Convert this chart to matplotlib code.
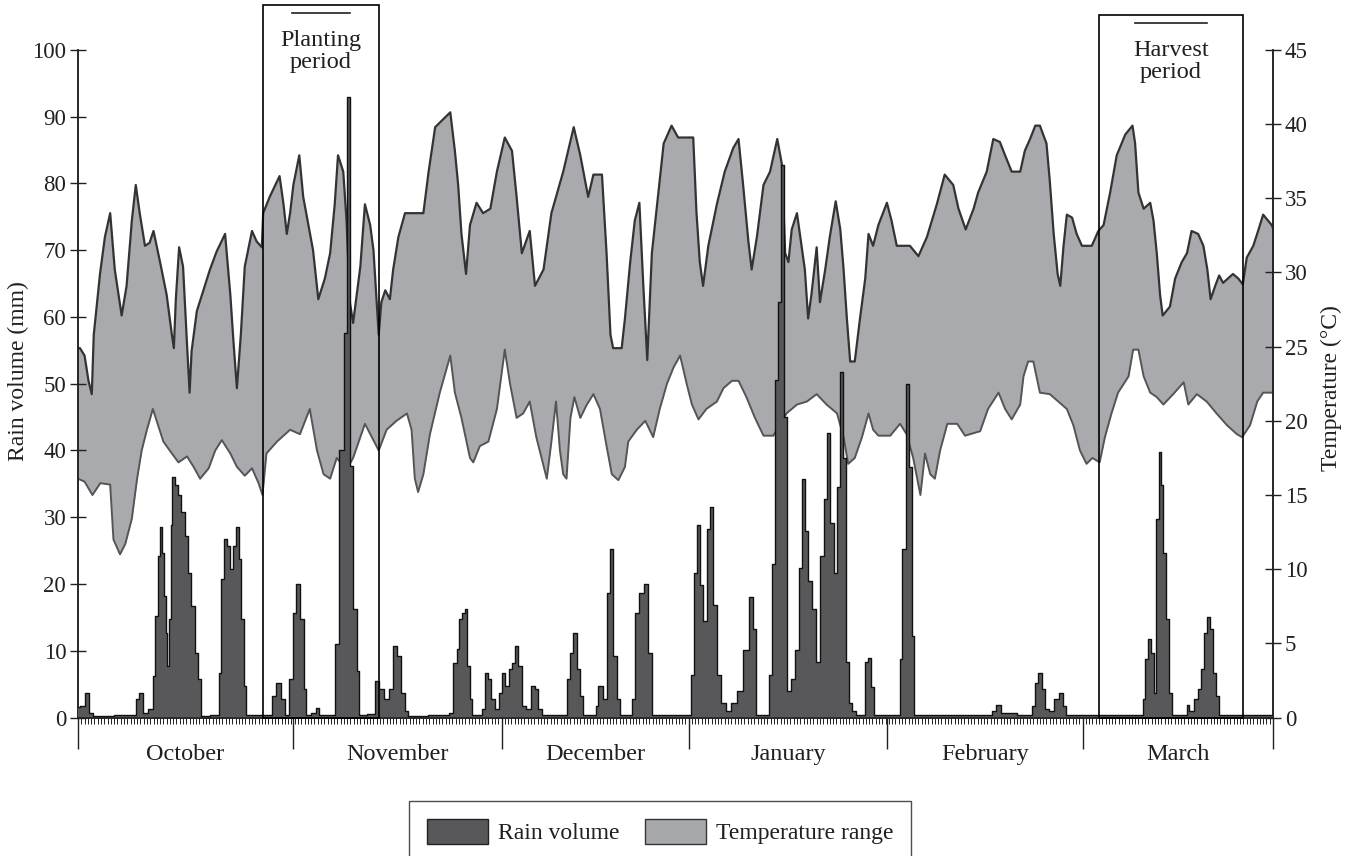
import matplotlib
matplotlib.use("Agg")
import matplotlib.pyplot as plt
from matplotlib.patches import Rectangle, Patch
from matplotlib.ticker import MultipleLocator, FixedLocator
import numpy as np

plt.rcParams['font.family'] = ['Liberation Serif', 'DejaVu Serif']

# ---------------- data ----------------
months = ["October", "November", "December", "January", "February", "March"]
month_edges = [0, 32.7, 64.6, 93.1, 123.2, 153.1, 182]

tmax_day = [0.0, 0.3, 1.0, 1.6, 2.1, 2.4, 3.35, 4.1, 4.9, 5.6, 6.65, 7.4, 8.2, 8.8, 9.4, 10.2, 10.9, 11.5, 12.5, 13.5,
            14.3, 14.6, 14.9, 15.4, 16.0, 16.6, 17.0, 17.3, 18.1, 19.1, 20.1, 21.1, 22.4, 23.2, 23.7, 24.2, 24.8, 25.4,
            26.5, 27.2, 28.0, 28.2, 29.2, 30.7, 31.3, 31.8, 32.3, 32.8, 33.7, 34.3, 35.1, 35.8, 36.6, 37.6, 38.4, 39.1,
            39.6, 40.4, 40.9, 41.4, 41.9, 43.0, 43.7, 44.5, 45.0, 45.8, 46.2, 46.8, 47.5, 48.0, 48.8, 49.8, 52.6, 53.4,
            54.4, 56.7, 57.4, 57.9, 58.4, 59.1, 59.7, 60.7, 61.7, 62.8, 63.8, 65.0, 66.1, 66.8, 67.6, 68.8, 69.6, 70.9,
            72.1, 73.9, 75.5, 76.5, 77.7, 78.5, 79.8, 80.5, 81.1, 81.5, 82.8, 83.3, 84.1, 84.8, 85.5, 86.1, 86.7, 87.4,
            88.4, 89.2, 90.4, 91.4, 93.7, 94.2, 94.7, 95.2, 96.0, 97.3, 98.5, 99.8, 100.6, 101.3, 102.1, 102.6, 103.4,
            104.4, 105.4, 106.5, 107.2, 107.7, 108.2, 108.7, 109.5, 110.2, 110.7, 111.2, 111.7, 112.5, 113.0, 113.8,
            114.5, 115.4, 116.1, 116.6, 117.1, 117.6, 118.3, 119.1, 119.9, 120.4, 121.1, 121.9, 123.2, 123.9, 124.7,
            126.7, 128.0, 129.3, 130.8, 132.0, 133.3, 134.1, 135.2, 136.4, 137.1, 138.4, 139.4, 140.4, 141.2, 142.2,
            143.5, 144.2, 145.0, 145.8, 146.5, 147.5, 148.0, 148.6, 149.2, 149.6, 150.1, 150.6, 151.4, 152.1, 152.9,
            154.4, 155.4, 156.2, 157.2, 158.2, 159.5, 160.6, 161.0, 161.5, 162.3, 163.3, 163.8, 164.3, 164.8, 165.2,
            166.3, 167.1, 168.1, 168.9, 169.6, 170.6, 171.4, 172.0, 172.5, 173.2, 173.8, 174.4, 175.9, 176.7, 177.4,
            178.0, 179.0, 179.8, 180.5, 181.8, 182.0]
tmax_val = [24.9, 24.9, 24.4, 22.7, 21.8, 25.8, 29.9, 32.4, 34.0, 30.2, 27.1, 29.1, 33.5, 35.9, 34.0, 31.8, 32.0, 32.8, 30.7, 28.5,
            25.8, 24.9, 28.2, 31.7, 30.4, 25.2, 21.9, 24.7, 27.4, 28.8, 30.2, 31.4, 32.6, 28.5, 25.2, 22.2, 25.8, 30.4,
            32.8, 32.1, 31.7, 34.0, 35.1, 36.5, 34.6, 32.6, 34.0, 35.9, 37.9, 35.1, 33.2, 31.5, 28.2, 29.6, 31.3, 34.6,
            37.9, 36.8, 33.5, 28.0, 26.6, 30.4, 34.6, 33.2, 31.5, 25.8, 28.0, 28.8, 28.2, 30.2, 32.4, 34.0, 34.0, 36.8,
            39.8, 40.8, 38.2, 35.9, 32.6, 29.9, 33.2, 34.7, 34.0, 34.3, 36.8, 39.1, 38.2, 35.1, 31.3, 32.8, 29.1, 30.2,
            34.0, 36.8, 39.8, 37.9, 35.1, 36.6, 36.6, 31.3, 25.8, 24.9, 24.9, 26.9, 30.7, 33.5, 34.7, 29.1, 24.1, 31.3,
            35.4, 38.7, 39.9, 39.1, 39.1, 34.0, 30.7, 29.1, 31.8, 34.6, 36.8, 38.4, 39.0, 35.9, 32.1, 30.2, 32.4,
            35.9, 36.8, 39.0, 37.3, 31.3, 30.7, 32.9, 34.0, 31.8, 30.2, 26.9, 28.5, 31.7, 28.0, 30.2,
            32.4, 34.8, 32.9, 30.2, 26.9, 24.0, 24.0, 26.9, 29.6, 32.6, 31.8, 33.2, 34.7, 33.5, 31.8,
            31.8, 31.1, 32.4, 34.6, 36.6, 35.9, 34.3, 32.9, 34.3, 35.4, 36.8, 39.0, 38.8, 37.9, 36.8,
            36.8, 38.2, 39.0, 39.9, 39.9, 38.7, 36.2, 32.6, 29.9, 29.1, 31.8, 33.9, 33.7, 32.6, 31.8,
            31.8, 32.8, 33.2, 35.4, 37.9, 39.3, 39.9, 38.7, 35.4, 34.3, 34.7, 33.5, 31.3, 28.5, 27.1,
            27.7, 29.6, 30.7, 31.3, 32.8, 32.6, 31.8, 30.2, 28.2, 29.1, 29.8, 29.3, 29.9, 29.6, 29.2,
            31.0, 31.8, 32.9, 33.9, 33.2, 33.0]

tmin_day = [0, 1.0, 2.2, 3.4, 4.9, 5.4, 6.4, 7.2, 8.2, 9.0, 9.7, 10.5, 11.4, 12.2, 13.0, 14.3, 15.3, 16.6, 17.6, 18.6,
            19.9, 20.9, 21.9, 23.2, 24.2, 25.4, 26.5, 27.5, 28.1, 28.7, 30.3, 32.3, 33.8, 35.3, 36.4, 37.4, 38.4, 39.4,
            40.9, 41.9, 43.7, 45.8, 47.0, 48.5, 50.1, 50.8, 51.3, 51.8, 52.6, 53.6, 55.1, 56.7, 57.4, 58.4, 59.7, 60.2,
            61.2, 62.5, 63.8, 65.0, 65.8, 66.8, 67.8, 68.8, 69.8, 71.4, 72.1, 72.8, 73.4, 73.9, 74.4, 75.0, 75.6, 76.5,
            77.5, 78.5, 79.5, 80.5, 81.3, 82.3, 83.3, 83.8, 85.1, 86.4, 87.6, 88.6, 89.7, 90.7, 91.7, 92.7, 93.5, 94.5,
            95.7, 97.3, 98.3, 99.6, 100.6, 101.8, 103.1, 104.4, 105.9, 107.9, 109.5, 111.0, 112.5, 114.0, 115.6, 116.6,
            117.3, 118.3, 119.4, 120.4, 121.1, 121.9, 123.7, 125.2, 126.2, 127.2, 128.3, 129.0, 129.8, 130.5, 131.3,
            132.4, 133.9, 135.1, 137.4, 138.6, 140.2, 141.2, 142.2, 143.5, 144.0, 144.7, 145.5, 146.5, 148.0, 149.3,
            150.6, 151.6, 152.6, 153.6, 154.5, 155.6, 156.4, 157.4, 158.4, 160.0, 160.7, 161.5, 162.3, 163.3, 164.3,
            165.3, 166.8, 168.4, 169.1, 170.4, 171.9, 173.4, 175.0, 176.5, 177.3, 178.5, 179.6, 180.5, 182.0]
tmin_val = [16.1, 15.9, 15.0, 15.8, 15.7, 12.0, 11.0, 11.7, 13.4, 16.1, 18.0, 19.4, 20.8, 19.7, 18.6, 17.8, 17.2, 17.6, 16.9, 16.1,
            16.8, 18.0, 18.7, 17.8, 16.9, 16.3, 16.8, 15.8, 15.0, 17.8, 18.6, 19.4, 19.1, 20.8, 18.0, 16.4, 16.1, 17.5,
            16.7, 17.5, 19.8, 18.0, 19.4, 20.0, 20.5, 19.4, 16.1, 15.2, 16.4, 19.1, 21.9, 24.4, 21.9, 20.2, 17.5, 17.2,
            18.3, 18.6, 20.8, 24.8, 22.5, 20.2, 20.5, 21.3, 18.9, 16.1, 18.6, 21.3, 18.0, 16.4, 16.1, 20.2, 21.6, 20.2,
            21.1, 21.8, 20.8, 18.3, 16.4, 16.0, 16.9, 18.6, 19.4, 20.0, 18.9, 20.8, 22.5, 23.6, 24.4, 22.5, 21.1, 20.1,
            20.8, 21.3, 22.2, 22.7, 22.7, 21.6, 20.2, 19.0, 19.0, 20.5, 21.1, 21.3, 21.8, 21.1, 20.5, 18.9,
            17.1, 17.5, 18.9, 20.5, 19.4, 19.0, 19.0, 19.8, 19.1, 17.5, 15.0, 17.8, 16.4, 16.1, 18.0,
            19.8, 19.8, 19.0, 19.3, 20.8, 21.9, 20.8, 20.1, 21.1, 23.0, 24.0, 24.0, 21.9, 21.8, 21.3,
            20.8, 19.7, 18.0, 17.1, 17.5, 17.2, 18.9, 20.5, 21.9, 23.0, 24.8, 24.8, 23.0, 21.9, 21.6,
            21.1, 21.8, 22.6, 21.1, 21.8, 21.3, 20.5, 19.7, 19.1, 18.9, 19.7, 21.3, 21.9, 21.9]

rain_day = [0, 0.7, 1.5, 2.0, 2.5, 8.6, 9.1, 9.6, 10.2, 11.2, 11.5, 11.9, 12.4, 12.7, 12.9, 13.2, 13.5, 13.7, 14.0, 14.2,
            14.5, 15.0, 15.5, 16.0, 16.5, 17.0, 17.5, 18.1, 18.6, 18.9, 21.3, 21.6, 22.1, 22.5, 22.9, 23.4, 23.9, 24.3,
            24.7, 25.1, 25.4, 25.8, 29.4, 29.7, 30.5, 31.3, 31.8, 32.5, 33.0, 33.5, 34.1, 34.6, 35.0, 36.0, 36.4, 36.9,
            39.0, 39.4, 40.2, 40.7, 41.2, 41.7, 42.2, 42.7, 43.0, 45.0, 45.5, 46.3, 47.0, 47.8, 48.3, 48.8, 49.5, 50.0,
            50.4, 56.2, 56.7, 57.4, 57.9, 58.3, 58.7, 59.1, 59.4, 59.9, 60.2, 61.4, 61.7, 62.2, 62.7, 63.2, 63.8, 64.3,
            64.8, 65.3, 65.9, 66.4, 66.8, 67.3, 67.8, 68.6, 69.3, 69.8, 70.4, 70.8, 74.4, 74.7, 75.2, 75.7, 76.2, 76.7,
            77.2, 78.7, 79.0, 79.5, 80.3, 80.8, 81.3, 81.8, 82.3, 82.8, 84.3, 84.6, 85.1, 85.9, 86.6, 87.1, 87.6, 93.2,
            93.5, 94.0, 94.5, 95.0, 95.5, 96.0, 96.5, 97.0, 97.5, 98.3, 99.1, 99.8, 100.8, 101.8, 102.6, 103.1, 103.4,
            105.1, 105.4, 105.9, 106.4, 106.9, 107.3, 107.8, 108.3, 108.9, 109.5, 110.0, 110.5, 111.0, 111.5, 112.1,
            112.8, 113.3, 113.8, 114.3, 114.8, 115.4, 115.9, 116.3, 116.7, 117.1, 117.6, 118.3, 118.8, 119.7, 120.0,
            120.5, 121.1, 121.5, 125.0, 125.3, 125.8, 126.3, 126.8, 127.1, 127.4, 139.0, 139.4, 140.2, 140.9, 145.2,
            145.5, 146.0, 146.5, 147.0, 147.5, 148.3, 149.0, 149.7, 150.2, 150.6, 162.0, 162.3, 162.8, 163.1, 163.6,
            164.0, 164.4, 164.8, 165.0, 165.5, 165.9, 166.4, 166.8, 168.7, 169.0, 169.5, 170.3, 170.8, 171.3, 171.8,
            172.1, 172.6, 173.0, 173.5, 173.9, 182.0]
rain_val = [1.5, 1.7, 3.7, 0.6, 0.2, 0.3, 2.7, 3.7, 0.7, 1.2, 6.2, 15.2, 24.2, 28.5, 24.7, 18.2, 12.7, 7.7, 14.7, 28.8,
            36.0, 34.8, 33.3, 30.8, 27.2, 21.7, 16.7, 9.7, 5.7, 0.2, 0.3, 6.7, 20.7, 26.7, 25.7, 22.2, 25.7, 28.5,
            23.7, 14.7, 4.7, 0.3, 0.3, 3.2, 5.2, 2.7, 0.4, 5.7, 15.7, 20.0, 14.7, 4.2, 0.3, 0.6, 1.4, 0.4,
            0.3, 11.0, 40.1, 57.6, 93.0, 37.7, 16.2, 7.0, 0.3, 0.5, 5.4, 4.2, 2.7, 4.2, 10.7, 9.2, 3.7, 0.9,
            0.2, 0.3, 0.7, 8.2, 10.2, 14.7, 15.7, 16.2, 7.7, 2.7, 0.4, 0.3, 1.2, 6.7, 5.7, 2.7, 1.2, 3.7,
            6.7, 4.7, 7.2, 8.2, 10.7, 7.7, 1.7, 1.2, 4.7, 4.2, 1.2, 0.3, 0.3, 5.7, 9.7, 12.7, 7.2, 3.2,
            0.3, 0.4, 1.7, 4.7, 2.7, 18.7, 25.2, 9.2, 2.7, 0.4, 0.3, 2.7, 15.7, 18.7, 20.0, 9.7, 0.4, 0.3,
            6.4, 21.7, 28.8, 19.9, 14.4, 28.2, 31.5, 16.8, 6.4, 2.1, 0.9, 2.1, 4.0, 10.1, 18.1, 13.2, 0.3,
            0.3, 6.4, 23.0, 50.5, 62.2, 82.7, 45.0, 4.0, 5.8, 10.1, 22.4, 35.8, 27.9, 20.5, 16.2,
            8.3, 24.2, 32.8, 42.6, 29.1, 21.7, 34.6, 51.7, 38.9, 8.3, 2.1, 0.9, 0.3, 0.3, 8.3,
            8.9, 4.6, 0.3, 0.3, 8.7, 25.2, 50.0, 37.5, 12.2, 0.3, 0.3, 0.9, 1.9, 0.6, 0.3,
            1.7, 5.2, 6.7, 4.2, 1.2, 0.9, 2.7, 3.7, 1.7, 0.3, 0.3, 2.7, 8.7, 11.7, 9.7,
            3.7, 29.8, 39.8, 34.8, 24.7, 14.7, 3.7, 0.3, 0.3, 1.9, 0.9, 2.7, 4.2, 7.2, 12.7,
            15.0, 13.2, 6.7, 3.2, 0.3, 0.3]

period_names = ["Planting\nperiod", "Harvest\nperiod"]
period_start = [28.2, 155.5]
period_end = [45.8, 177.4]

# ---------------- figure ----------------
W, H = 1354, 856
fig = plt.figure(figsize=(W / 100, H / 100), dpi=100)
L, R, B, T = 78, 1273, 717.5, 50
ax_t = fig.add_axes([L / W, 1 - B / H, (R - L) / W, (B - T) / H])
ax_r = ax_t.twinx()

dark = "#231f20"
temp_fill = "#a9aaad"
rain_fill = "#58585b"

# temperature range (right axis)
x_all = np.union1d(np.array(tmax_day), np.array(tmin_day))
hi = np.interp(x_all, tmax_day, tmax_val)
lo = np.interp(x_all, tmin_day, tmin_val)
ax_t.fill_between(x_all, lo, hi, color=temp_fill, lw=0, zorder=1)
ax_t.plot(tmax_day, tmax_val, color="#333333", lw=1.6, zorder=2)
ax_t.plot(tmin_day, tmin_val, color="#555555", lw=1.4, zorder=2)
ax_t.set_ylim(0, 45)
ax_t.set_xlim(0, 182)

# rain (left axis)
ax_r.fill_between(rain_day, 0, rain_val, step="mid", color=rain_fill, lw=0, zorder=3)
ax_r.plot(rain_day, rain_val, drawstyle="steps-mid", color="#111111", lw=1.0, zorder=4)
ax_r.set_ylim(0, 100)
ax_r.set_xlim(0, 182)

# axis placement: rain on left, temperature on right
ax_r.yaxis.tick_left()
ax_r.yaxis.set_label_position("left")
ax_t.yaxis.tick_right()
ax_t.yaxis.set_label_position("right")

for a in (ax_t, ax_r):
    a.spines["top"].set_visible(False)
    for s in ("left", "right", "bottom"):
        a.spines[s].set_color(dark)
        a.spines[s].set_linewidth(1.1)
    a.patch.set_visible(False)

ax_r.set_yticks(np.arange(0, 101, 10))
ax_t.set_yticks(np.arange(0, 46, 5))
ax_r.tick_params(axis="y", direction="inout", length=11, width=1.0, color=dark,
                 labelsize=16.5, labelcolor=dark, pad=3)
ax_t.tick_params(axis="y", direction="inout", length=11, width=1.0, color=dark,
                 labelsize=16.5, labelcolor=dark, pad=3)

# x axis: month edges as long ticks, half-day minor ticks
ax_t.xaxis.set_major_locator(FixedLocator(month_edges))
ax_t.xaxis.set_minor_locator(MultipleLocator(0.5))
ax_t.tick_params(axis="x", which="major", direction="out", length=22, width=1.0,
                 color=dark, labelbottom=False)
ax_t.tick_params(axis="x", which="minor", direction="out", length=4, width=0.7, color=dark)
ax_r.tick_params(axis="x", which="both", bottom=False, labelbottom=False)

xt = ax_t.get_xaxis_transform()
for i, m in enumerate(months):
    c = 0.5 * (month_edges[i] + month_edges[i + 1])
    ax_t.text(c, -0.055, m, transform=xt, ha="center", va="center", fontsize=17.5, color=dark)

# labels
fig.text(18 / W, 1 - 371 / H, "Rain volume (mm)", rotation=90, ha="center", va="center",
         fontsize=17, color=dark)
fig.text(1331 / W, 1 - 388 / H, "Temperature (°C)", rotation=90, ha="center", va="center",
         fontsize=17, color=dark)

# period boxes
box_tops = [106.7, 105.2]
for name, s, e, top in zip(period_names, period_start, period_end, box_tops):
    ax_r.add_patch(Rectangle((s, 0), e - s, top, fill=False, ec="black", lw=1.2,
                             clip_on=False, zorder=6))
    c = 0.5 * (s + e)
    ax_r.text(c, top - 6.9, name, ha="center", va="center", fontsize=17.5, color=dark,
              linespacing=1.05, clip_on=False, zorder=7)
    hw = 0.25 * (e - s)
    ax_r.plot([c - hw, c + hw], [top - 1.1, top - 1.1], color=dark, lw=1.2, clip_on=False, zorder=7)

# legend
handles = [Patch(facecolor=rain_fill, edgecolor="#222222", lw=1.0, label="Rain volume"),
           Patch(facecolor="#a7a8ab", edgecolor="#333333", lw=1.0, label="Temperature range")]
leg = fig.legend(handles=handles, loc="upper left", bbox_to_anchor=(409 / W, 1 - 801 / H),
                 ncol=2, frameon=True, fancybox=False, fontsize=17, handlelength=2.6,
                 handleheight=1.3, handletextpad=0.4, columnspacing=1.1, borderpad=0.75,
                 borderaxespad=0)
leg.get_frame().set_edgecolor(dark)
leg.get_frame().set_linewidth(1.0)
for t in leg.get_texts():
    t.set_color(dark)

fig.savefig("out.png", dpi=100)
